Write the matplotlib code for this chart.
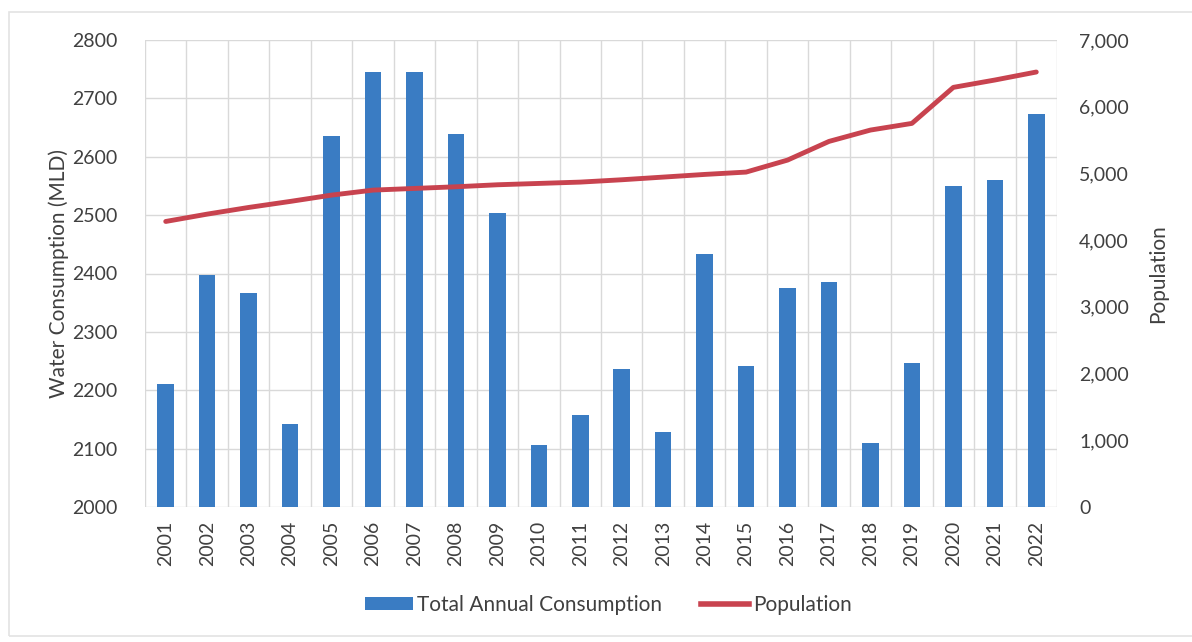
import matplotlib
matplotlib.use("Agg")
import matplotlib.pyplot as plt
from matplotlib.lines import Line2D
from matplotlib.patches import Patch, Rectangle
from matplotlib.ticker import FuncFormatter, MultipleLocator
import numpy as np

years = [str(y) for y in range(2001, 2023)]
consumption = [2211, 2397, 2366, 2143, 2636, 2745, 2746, 2639, 2503, 2106, 2158,
               2236, 2128, 2433, 2242, 2376, 2386, 2110, 2246, 2550, 2560, 2674]
population = [4280, 4390, 4490, 4580, 4675, 4750, 4775, 4800, 4830, 4850, 4870,
              4905, 4945, 4985, 5020, 5200, 5480, 5650, 5750, 6290, 6400, 6520]

plt.rcParams['font.family'] = ['Lato', 'DejaVu Sans']
text_color = '#404040'
bar_color = '#3a7cc3'
line_color = '#c8434f'
grid_color = '#d9d9d9'

fig = plt.figure(figsize=(11.92, 6.42), dpi=100)
fig.patch.set_facecolor('white')

# faint outer frame of the chart area
fig.patches.append(Rectangle((9 / 1192, 1 - 636 / 642), 1.2, (636 - 12) / 642,
                             transform=fig.transFigure, fill=False,
                             edgecolor='#e3e3e3', linewidth=1.2))

ax = fig.add_axes([145 / 1192, 1 - 507 / 642, 912 / 1192, 467 / 642])
x = np.arange(len(years))
ax.bar(x, consumption, width=0.4, color=bar_color, zorder=3)
ax.set_ylim(2000, 2800)
ax.set_xlim(-0.5, len(years) - 0.5)
ax.yaxis.set_major_locator(MultipleLocator(100))
ax.set_xticks(x)
ax.set_xticklabels(years, rotation=90, fontsize=14, color=text_color)
ax.set_xticks(np.arange(-0.5, len(years), 1), minor=True)
ax.grid(axis='y', which='major', color=grid_color, linewidth=1, zorder=0)
ax.grid(axis='x', which='minor', color=grid_color, linewidth=1, zorder=0)
ax.tick_params(axis='both', which='both', length=0, colors=text_color, labelsize=14)
ax.tick_params(axis='y', pad=20)
ax.tick_params(axis='x', pad=10)
for s in ax.spines.values():
    s.set_visible(False)
ax.set_ylabel('Water Consumption (MLD)', fontsize=15, color=text_color, labelpad=2)

ax2 = ax.twinx()
ax2.plot(x, population, color=line_color, linewidth=3.5, solid_capstyle='round', zorder=4)
ax2.set_ylim(0, 7000)
ax2.yaxis.set_major_locator(MultipleLocator(1000))
ax2.yaxis.set_major_formatter(FuncFormatter(lambda v, p: f'{int(v):,}'))
ax2.tick_params(axis='y', length=0, colors=text_color, labelsize=14, pad=16)
for s in ax2.spines.values():
    s.set_visible(False)
ax2.set_ylabel('Population', fontsize=15, color=text_color, labelpad=14)

handles = [Patch(facecolor=bar_color, edgecolor='none'),
           Line2D([0], [0], color=line_color, linewidth=4)]
fig.legend(handles, ['Total Annual Consumption', 'Population'],
           loc='center', bbox_to_anchor=(0.5105, 1 - 605 / 642), ncol=2, frameon=False,
           fontsize=15, labelcolor=text_color, handlelength=2.3, handleheight=0.55,
           columnspacing=1.9, handletextpad=0.2)

fig.savefig('out.png', dpi=100, facecolor='white')
